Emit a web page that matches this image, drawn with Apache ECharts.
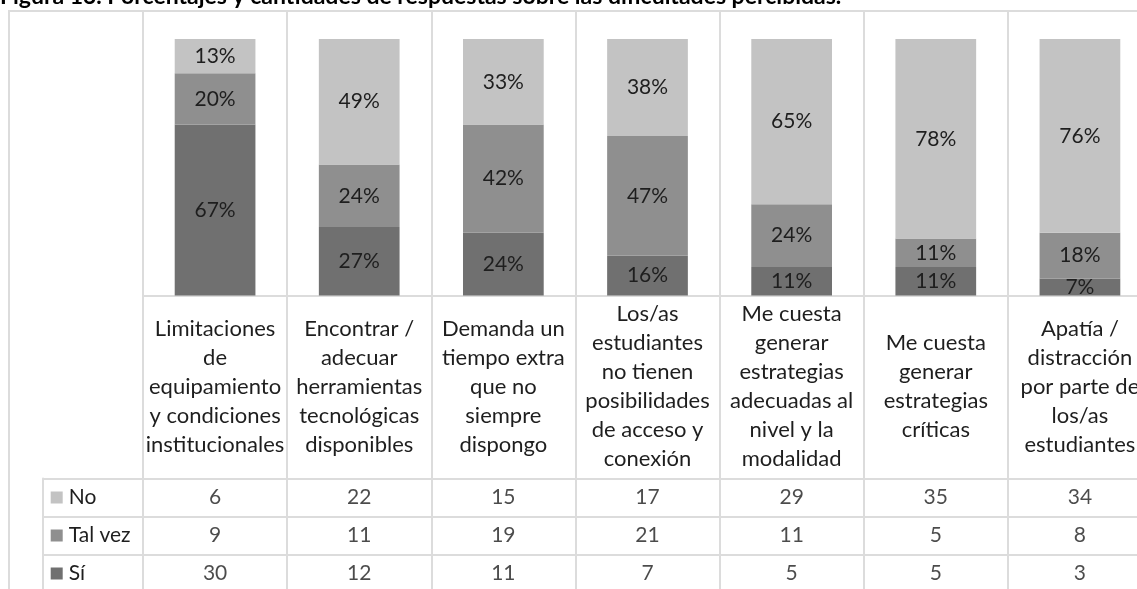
<!DOCTYPE html>
<html>
<head>
<meta charset="utf-8">
<script src="https://cdn.jsdelivr.net/npm/echarts@6/dist/echarts.min.js"></script>
<style>
  html, body { margin: 0; padding: 0; background: #fff; }
  #chart { width: 1137px; height: 589px; }
</style>
</head>
<body>
<div id="chart"></div>
<script>
// categories (line breaks as in the figure)
const categories = [
    'Limitaciones\nde\nequipamiento\ny condiciones\ninstitucionales',
    'Encontrar /\nadecuar\nherramientas\ntecnológicas\ndisponibles',
    'Demanda un\ntiempo extra\nque no\nsiempre\ndispongo',
    'Los/as\nestudiantes\nno tienen\nposibilidades\nde acceso y\nconexión',
    'Me cuesta\ngenerar\nestrategias\nadecuadas al\nnivel y la\nmodalidad',
    'Me cuesta\ngenerar\nestrategias\ncríticas',
    'Apatía /\ndistracción\npor parte de\nlos/as\nestudiantes'
];
const rowNames = ['No', 'Tal vez', 'Sí'];

// counts (data table)
const countNo = [6, 22, 15, 17, 29, 35, 34];
const countTalVez = [9, 11, 19, 21, 11, 5, 8];
const countSi = [30, 12, 11, 7, 5, 5, 3];
const totalAnswers = 45;

// percentage labels shown on the bars
const pctNo = [13, 49, 33, 38, 65, 78, 76];
const pctTalVez = [20, 24, 42, 47, 24, 11, 18];
const pctSi = [67, 27, 24, 16, 11, 11, 7];

const title = 'Figura 13. Porcentajes y cantidades de respuestas sobre las dificultades percibidas.';

const colNo = '#c3c3c3';
const colTalVez = '#8f8f8f';
const colSi = '#707070';
const lineCol = '#dcdcdc';
const textCol = '#1e1e1e';
const font = 'Lato';

document.addEventListener('DOMContentLoaded', function () {
    const chart = echarts.init(document.getElementById('chart'));

    const rowCounts = [countNo, countTalVez, countSi];
    const cells = [];
    rowCounts.forEach((arr, r) => {
        arr.forEach((v, c) => cells.push([c, r, v]));
    });

    const barLabel = function (pcts) {
        return {
            show: true,
            position: 'inside',
            color: textCol,
            fontFamily: font,
            fontSize: 21,
            formatter: p => pcts[p.dataIndex] + '%'
        };
    };

    // table columns are wider than the canvas on the right (last column is cut)
    const colLeft = 143;
    const colWidth = 1009;

    const option = {
        animation: false,
        backgroundColor: '#fff',
        graphic: [{
            type: 'text',
            x: 0,
            y: -3,
            style: {
                text: title,
                fontFamily: font,
                fontWeight: 'bold',
                fontSize: 23,
                fill: '#000',
                verticalAlign: 'middle'
            }
        }],
        grid: [
            // outer frame
            { left: 9, top: 11, width: 1200, height: 650, show: true, borderColor: lineCol, borderWidth: 2, outerBoundsMode: 'none' },
            // vertical column lines
            { left: colLeft, width: colWidth, top: 11, height: 650, outerBoundsMode: 'none' },
            // bars
            { left: colLeft, width: colWidth, top: 39, height: 256.5, outerBoundsMode: 'none' },
            // data table (with legend column)
            { left: 42.7, width: 1109.3, top: 478.5, height: 114, outerBoundsMode: 'none' },
            // data table numbers
            { left: colLeft, width: colWidth, top: 478.5, height: 114, outerBoundsMode: 'none' }
        ],
        xAxis: [
            { gridIndex: 0, type: 'value', show: false },
            {
                gridIndex: 1, type: 'category', data: categories,
                axisLine: { show: false }, axisTick: { show: false }, axisLabel: { show: false },
                splitLine: { show: true, interval: 0, lineStyle: { color: lineCol, width: 2 } }
            },
            {
                gridIndex: 2, type: 'category', data: categories,
                axisLine: { show: true, lineStyle: { color: lineCol, width: 2 } },
                axisTick: { show: false },
                axisLabel: {
                    interval: 0,
                    margin: 91,
                    verticalAlign: 'middle',
                    lineHeight: 29,
                    color: textCol,
                    fontFamily: font,
                    fontSize: 22
                }
            },
            { gridIndex: 3, type: 'value', show: false },
            { gridIndex: 4, type: 'category', data: categories, show: false }
        ],
        yAxis: [
            { gridIndex: 0, type: 'value', show: false },
            { gridIndex: 1, type: 'value', show: false },
            { gridIndex: 2, type: 'value', min: 0, max: totalAnswers, show: false },
            {
                gridIndex: 3, type: 'category', data: rowNames, inverse: true,
                axisLine: { show: true, lineStyle: { color: lineCol, width: 2 } },
                axisTick: { show: false },
                splitLine: { show: true, interval: 0, lineStyle: { color: lineCol, width: 2 } },
                axisLabel: {
                    inside: true,
                    margin: 8,
                    interval: 0,
                    formatter: (v, i) => '{s' + i + '|}{t|' + v + '}',
                    rich: {
                        s0: { width: 12, height: 12, backgroundColor: colNo },
                        s1: { width: 12, height: 12, backgroundColor: colTalVez },
                        s2: { width: 12, height: 12, backgroundColor: colSi },
                        t: { color: textCol, fontFamily: font, fontSize: 21, padding: [0, 0, 0, 6] }
                    }
                }
            },
            { gridIndex: 4, type: 'category', data: rowNames, inverse: true, show: false }
        ],
        series: [
            {
                name: 'Sí', type: 'bar', stack: 'total', xAxisIndex: 2, yAxisIndex: 2,
                barWidth: '56%', itemStyle: { color: colSi },
                label: barLabel(pctSi), data: countSi
            },
            {
                name: 'Tal vez', type: 'bar', stack: 'total', xAxisIndex: 2, yAxisIndex: 2,
                barWidth: '56%', itemStyle: { color: colTalVez },
                label: barLabel(pctTalVez), data: countTalVez
            },
            {
                name: 'No', type: 'bar', stack: 'total', xAxisIndex: 2, yAxisIndex: 2,
                barWidth: '56%', itemStyle: { color: colNo },
                label: barLabel(pctNo), data: countNo
            },
            {
                name: 'tabla', type: 'scatter', xAxisIndex: 4, yAxisIndex: 4,
                symbolSize: 0,
                label: {
                    show: true,
                    position: 'inside',
                    color: textCol,
                    fontFamily: font,
                    fontSize: 21,
                    formatter: p => p.value[2]
                },
                data: cells
            }
        ]
    };
    chart.setOption(option);
});
</script>
</body>
</html>
